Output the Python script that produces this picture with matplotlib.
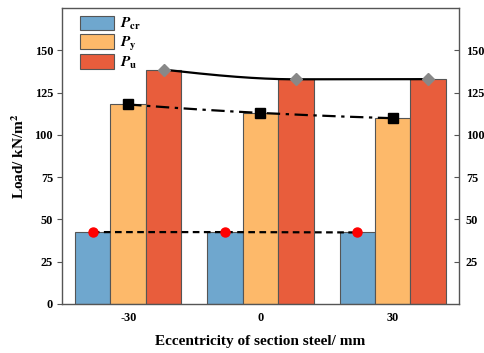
import numpy as np
import matplotlib
matplotlib.use("Agg")
import matplotlib.pyplot as plt

plt.rcParams['font.family'] = 'Liberation Serif'
plt.rcParams['font.weight'] = 'bold'
plt.rcParams['mathtext.fontset'] = 'stix'

eccentricity = ['-30', '0', '30']
p_cr = [42.5, 42.5, 42.3]
p_y = [118.0, 113.0, 109.9]
p_u = [138.6, 132.9, 133.0]

colors = ['#6FA7CE', '#FDB96A', '#E85D3C']
edge = '#555555'


def pchip(x, y, n=200):
    # monotone cubic hermite, used only to draw the smooth connecting line
    x = np.asarray(x, float)
    y = np.asarray(y, float)
    h = np.diff(x)
    d = np.diff(y) / h
    m = np.zeros_like(y)
    for k in range(1, len(y) - 1):
        if d[k - 1] * d[k] > 0:
            w1 = 2 * h[k] + h[k - 1]
            w2 = h[k] + 2 * h[k - 1]
            m[k] = (w1 + w2) / (w1 / d[k - 1] + w2 / d[k])
    for i, j, k in [(0, 0, 1), (-1, -1, -2)]:
        e = ((2 * h[j] + h[k]) * d[j] - h[j] * d[k]) / (h[j] + h[k])
        if np.sign(e) != np.sign(d[j]):
            e = 0
        elif np.sign(d[j]) != np.sign(d[k]) and abs(e) > 3 * abs(d[j]):
            e = 3 * d[j]
        m[i] = e
    xs, ys = [], []
    for k in range(len(h)):
        t = np.linspace(0, 1, n)
        h00 = 2 * t**3 - 3 * t**2 + 1
        h10 = t**3 - 2 * t**2 + t
        h01 = -2 * t**3 + 3 * t**2
        h11 = t**3 - t**2
        xs.append(x[k] + t * h[k])
        ys.append(h00 * y[k] + h10 * h[k] * m[k] + h01 * y[k + 1] + h11 * h[k] * m[k + 1])
    return np.concatenate(xs), np.concatenate(ys)


fig = plt.figure(figsize=(4.85, 3.53), dpi=100)
ax = fig.add_axes([0.128, 0.139, 0.818, 0.838])

x = np.arange(len(eccentricity))
w = 0.268
ax.bar(x - w, p_cr, w, color=colors[0], edgecolor=edge, linewidth=0.8, label=r'$\mathbfit{P}_{\mathbf{cr}}$', zorder=2)
ax.bar(x, p_y, w, color=colors[1], edgecolor=edge, linewidth=0.8, label=r'$\mathbfit{P}_{\mathbf{y}}$', zorder=2)
ax.bar(x + w, p_u, w, color=colors[2], edgecolor=edge, linewidth=0.8, label=r'$\mathbfit{P}_{\mathbf{u}}$', zorder=2)

ax.plot(x - w, p_cr, color='black', linestyle=(0, (3, 2)), linewidth=1.6, zorder=3)
ax.plot(x - w, p_cr, 'o', color='red', markersize=6.5, zorder=4)

sx, sy = pchip(x, p_y)
ax.plot(sx, sy, color='black', linestyle=(0, (6, 2.5, 1.5, 2.5)), linewidth=1.6, zorder=3)
ax.plot(x, p_y, 's', color='black', markersize=6.5, zorder=4)

sx, sy = pchip(x + w, p_u)
ax.plot(sx, sy, color='black', linewidth=1.6, zorder=3)
ax.plot(x + w, p_u, 'D', color='#888888', markersize=6.5, zorder=4)

ax.set_xlim(-0.5, 2.5)
ax.set_ylim(0, 175)
ax.set_yticks([0, 25, 50, 75, 100, 125, 150])
ax.set_xticks(x)
ax.set_xticklabels(eccentricity)
ax.tick_params(axis='x', length=0, labelsize=8.8, pad=6)
ax.tick_params(axis='y', direction='out', length=3.5, labelsize=8.8, color=edge, pad=3)
for s in ax.spines.values():
    s.set_color(edge)
    s.set_linewidth(1.0)

ax2 = ax.twinx()
ax2.set_ylim(0, 175)
ax2.set_yticks([25, 50, 75, 100, 125, 150])
ax2.tick_params(axis='y', direction='in', length=3.5, labelsize=8.8, color=edge, pad=5)
for s in ax2.spines.values():
    s.set_visible(False)

ax.set_xlabel('Eccentricity of section steel/ mm', fontsize=11, fontweight='bold', labelpad=8)
ax.set_ylabel(r'Load/ kN/m$^\mathbf{2}$', fontsize=11, fontweight='bold', labelpad=5)

ax.legend(loc='upper left', bbox_to_anchor=(0.045, 0.975), frameon=False, fontsize=11,
          handlelength=2.2, handleheight=1.1, labelspacing=0.12, handletextpad=0.4, borderaxespad=0.0,
          borderpad=0.0)

fig.savefig('out.png', dpi=100)
